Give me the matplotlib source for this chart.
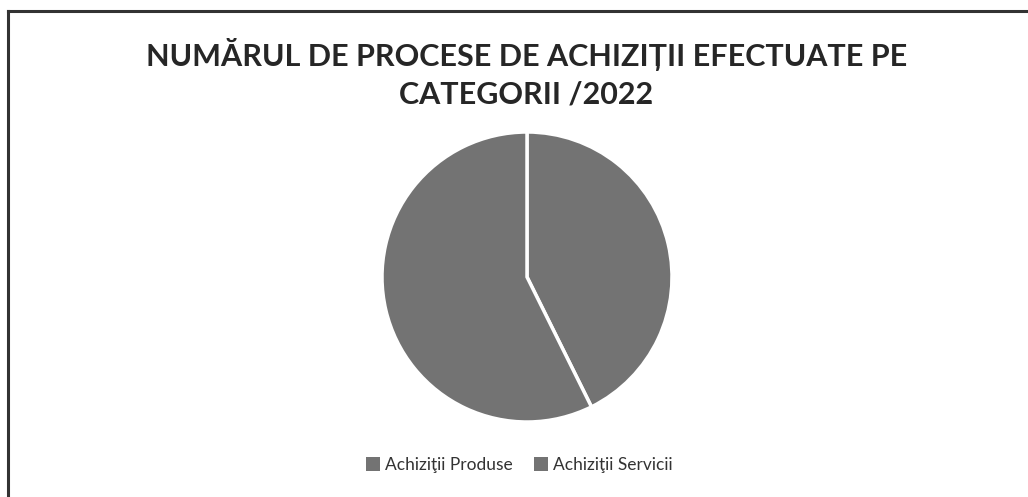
import matplotlib
matplotlib.use("Agg")
import matplotlib.pyplot as plt
from matplotlib.patches import Patch
from matplotlib.lines import Line2D

categories = ["Achiziţii Produse", "Achiziţii Servicii"]
values = [64, 86]
colors = ["#737373", "#737373"]
title = "NUMĂRUL DE PROCESE DE ACHIZIȚII EFECTUATE PE\nCATEGORII /2022"

W, H = 1028, 497
fig = plt.figure(figsize=(W / 100, H / 100), dpi=100)
fig.patch.set_facecolor("white")

# frame lines (top and left)
fig.add_artist(Line2D([8 / W, 1.0], [1 - 11 / H, 1 - 11 / H], color="#333333", lw=2.2))
fig.add_artist(Line2D([8 / W, 8 / W], [0, 1 - 11 / H], color="#333333", lw=2.2))

cx, cy, r = 527, 277, 145
ax = fig.add_axes([(cx - r) / W, (H - cy - r) / H, 2 * r / W, 2 * r / H])
ax.pie(values, colors=colors, startangle=90, counterclock=False,
       wedgeprops=dict(edgecolor="white", linewidth=2.5))
ax.set_xlim(-1, 1)
ax.set_ylim(-1, 1)
ax.set_aspect("equal")
ax.axis("off")

fig.text(0.512, 1 - 73 / H, title, ha="center", va="center",
         fontsize=22, fontweight="bold", color="#262626",
         family=["Lato", "DejaVu Sans"], linespacing=1.4)

handles = [Patch(facecolor=c, edgecolor="none") for c in colors]
fig.legend(handles, categories, loc="center", bbox_to_anchor=(0.505, 1 - 465 / H),
           ncol=2, frameon=False, handlelength=0.8, handleheight=0.8,
           handletextpad=0.3, columnspacing=1.2,
           prop={"family": ["Lato", "DejaVu Sans"], "size": 12.5})
for t in fig.legends[0].get_texts():
    t.set_color("#333333")

fig.savefig("out.png", dpi=100)
